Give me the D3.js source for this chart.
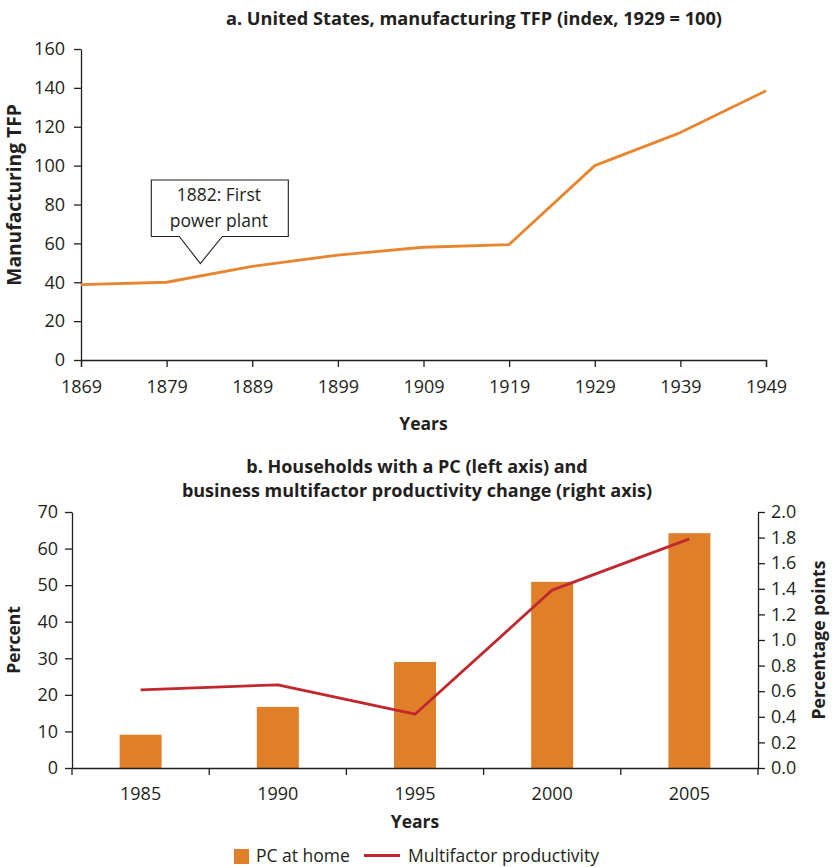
<!DOCTYPE html>
<html>
<head>
<meta charset="utf-8">
<script src="https://cdn.jsdelivr.net/npm/d3@7"></script>
<style>
  html, body { margin: 0; padding: 0; background: #fff; }
  svg { display: block; }
  text { font-family: "Open Sans", "Noto Sans", sans-serif; fill: #231f20; }
  .bold { font-weight: 700; }
</style>
</head>
<body>
<svg id="chart" width="833" height="867"></svg>
<script>
// ---------- Data: panel a ----------
const tfpYears = [1869, 1879, 1889, 1899, 1909, 1919, 1929, 1939, 1949];
const tfpValues = [38.8, 40, 48.2, 54, 58, 59.4, 100, 117, 138.5];
const tfpYTicks = [0, 20, 40, 60, 80, 100, 120, 140, 160];
const annotationYear = 1882;
const annotationLines = ["1882: First", "power plant"];
const titleA = "a. United States, manufacturing TFP (index, 1929 = 100)";
const yLabelA = "Manufacturing TFP";
const xLabel = "Years";

// ---------- Data: panel b ----------
const pcYears = ["1985", "1990", "1995", "2000", "2005"];
const pcAtHome = [9.1, 16.7, 29.0, 50.9, 64.2];
const mfpChange = [0.61, 0.65, 0.42, 1.39, 1.79];
const pcLeftTicks = [0, 10, 20, 30, 40, 50, 60, 70];
const pcRightTicks = [0, 0.2, 0.4, 0.6, 0.8, 1.0, 1.2, 1.4, 1.6, 1.8, 2.0];
const titleB = ["b. Households with a PC (left axis) and", "business multifactor productivity change (right axis)"];
const yLabelBLeft = "Percent";
const yLabelBRight = "Percentage points";
const legendLabels = ["PC at home", "Multifactor productivity"];

// ---------- Styles ----------
const orangeLine = "#e8862f";
const barColor = "#e07f2a";
const redLine = "#c1272d";
const axisColor = "#231f20";
const fs = 18;

const svg = d3.select("#chart");

function styleAxis(g) {
  g.selectAll("path, line").attr("stroke", axisColor).attr("stroke-width", 1.3);
  g.selectAll("text").attr("font-size", fs).attr("fill", axisColor)
    .style("font-family", '"Open Sans", "Noto Sans", sans-serif');
}

// ================= Panel a =================
const xA = d3.scaleLinear().domain([1869, 1949]).range([81, 766]);
const yA = d3.scaleLinear().domain([0, 160]).range([360, 49]);

svg.append("text").attr("class", "bold").attr("x", 474).attr("y", 25)
  .attr("text-anchor", "middle").attr("font-size", 18.2).text(titleA);

const gxA = svg.append("g").attr("transform", `translate(0,${yA(0)})`)
  .call(d3.axisBottom(xA).tickValues(tfpYears).tickFormat(d3.format("d"))
    .tickSizeInner(7).tickSizeOuter(7).tickPadding(13));
styleAxis(gxA);

const gyA = svg.append("g").attr("transform", `translate(${xA(1869)},0)`)
  .call(d3.axisLeft(yA).tickValues(tfpYTicks).tickSizeInner(7).tickSizeOuter(0).tickPadding(9));
styleAxis(gyA);

svg.append("text").attr("class", "bold").attr("x", (xA(1869) + xA(1949)) / 2).attr("y", 430)
  .attr("text-anchor", "middle").attr("font-size", 17.5).text(xLabel);

svg.append("text").attr("class", "bold")
  .attr("transform", `translate(21,195) rotate(-90)`)
  .attr("text-anchor", "middle").attr("font-size", 19.2).text(yLabelA);

const lineA = d3.line().x((d, i) => xA(tfpYears[i])).y(d => yA(d));
svg.append("path").datum(tfpValues).attr("d", lineA)
  .attr("fill", "none").attr("stroke", orangeLine).attr("stroke-width", 2.8)
  .attr("stroke-linejoin", "round");

// annotation callout
const tipX = xA(annotationYear) + 8, tipY = 263.5;
const boxL = tipX - 49, boxR = tipX + 88, boxT = 180, boxB = 236.5;
svg.append("path")
  .attr("d", `M${boxL},${boxT} H${boxR} V${boxB} H${tipX + 22} L${tipX},${tipY} L${tipX - 21},${boxB} H${boxL} Z`)
  .attr("fill", "#fff").attr("stroke", axisColor).attr("stroke-width", 1.1);
svg.append("g").selectAll("text").data(annotationLines).join("text")
  .attr("x", (boxL + boxR) / 2 - 1).attr("y", (d, i) => 201 + i * 26)
  .attr("text-anchor", "middle").attr("font-size", 17.5).text(d => d);

// ================= Panel b =================
const xB = d3.scaleBand().domain(pcYears).range([72, 758]);
const yBL = d3.scaleLinear().domain([0, 70]).range([768, 512]);
const yBR = d3.scaleLinear().domain([0, 2]).range([768, 512]);

svg.append("g").selectAll("text").data(titleB).join("text")
  .attr("class", "bold").attr("x", 417).attr("y", (d, i) => 473 + i * 24)
  .attr("text-anchor", "middle").attr("font-size", 18).text(d => d);

const barW = xB.bandwidth() * 0.306;
svg.append("g").selectAll("rect").data(pcAtHome).join("rect")
  .attr("x", (d, i) => xB(pcYears[i]) + xB.bandwidth() / 2 - barW / 2)
  .attr("y", d => yBL(d))
  .attr("width", barW)
  .attr("height", d => yBL(0) - yBL(d))
  .attr("fill", barColor);

const gxB = svg.append("g").attr("transform", `translate(0,${yBL(0)})`)
  .call(d3.axisBottom(xB).tickSize(0).tickPadding(19));
styleAxis(gxB);
// tick marks at band boundaries
gxB.selectAll(".bound").data(pcYears.concat(["end"])).join("line")
  .attr("class", "bound")
  .attr("x1", (d, i) => i < pcYears.length ? xB(d) : xB.range()[1])
  .attr("x2", (d, i) => i < pcYears.length ? xB(d) : xB.range()[1])
  .attr("y1", 0).attr("y2", 7)
  .attr("stroke", axisColor).attr("stroke-width", 1.3);

const gyBL = svg.append("g").attr("transform", `translate(72,0)`)
  .call(d3.axisLeft(yBL).tickValues(pcLeftTicks).tickSizeInner(7).tickSizeOuter(0).tickPadding(7));
styleAxis(gyBL);

const gyBR = svg.append("g").attr("transform", `translate(758,0)`)
  .call(d3.axisRight(yBR).tickValues(pcRightTicks).tickFormat(d3.format(".1f"))
    .tickSizeInner(7).tickSizeOuter(0).tickPadding(6));
styleAxis(gyBR);

const lineB = d3.line()
  .x((d, i) => xB(pcYears[i]) + xB.bandwidth() / 2)
  .y(d => yBR(d));
svg.append("path").datum(mfpChange).attr("d", lineB)
  .attr("fill", "none").attr("stroke", redLine).attr("stroke-width", 2.8)
  .attr("stroke-linejoin", "round");

svg.append("text").attr("class", "bold").attr("x", 415).attr("y", 828)
  .attr("text-anchor", "middle").attr("font-size", 17.5).text(xLabel);

svg.append("text").attr("class", "bold")
  .attr("transform", `translate(20,640) rotate(-90)`)
  .attr("text-anchor", "middle").attr("font-size", 17.5).text(yLabelBLeft);

svg.append("text").attr("class", "bold")
  .attr("transform", `translate(825,640) rotate(-90)`)
  .attr("text-anchor", "middle").attr("font-size", 17.6).text(yLabelBRight);

// legend
const lg = svg.append("g");
lg.append("rect").attr("x", 234).attr("y", 849).attr("width", 15).attr("height", 15).attr("fill", barColor);
lg.append("text").attr("x", 256).attr("y", 862).attr("font-size", 17.5).text(legendLabels[0]);
lg.append("line").attr("x1", 364).attr("x2", 400).attr("y1", 855.5).attr("y2", 855.5)
  .attr("stroke", redLine).attr("stroke-width", 3);
lg.append("text").attr("x", 408).attr("y", 862).attr("font-size", 17.5).text(legendLabels[1]);
</script>
</body>
</html>
